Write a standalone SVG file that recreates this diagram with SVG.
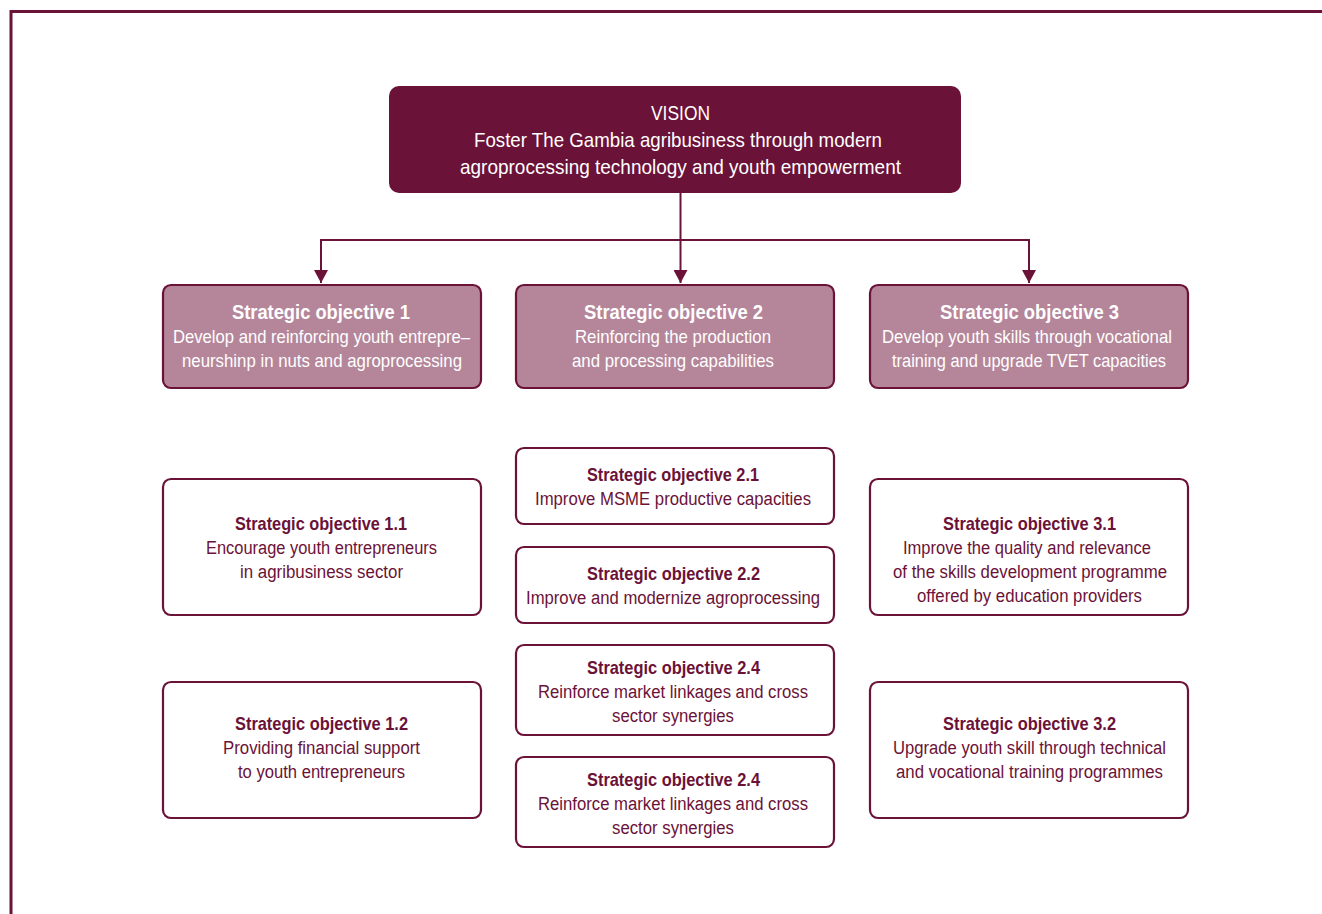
<svg xmlns="http://www.w3.org/2000/svg" width="1322" height="914" viewBox="0 0 1322 914">
<defs>
<marker id="arr" markerWidth="14" markerHeight="14" refX="13" refY="7" orient="auto-start-reverse" markerUnits="userSpaceOnUse" viewBox="0 0 14 14">
<path d="M0,0 L13,7 L0,14 Z" fill="#6b1238"/>
</marker>
<style>
text{font-family:"Liberation Sans",Arial,sans-serif;text-anchor:middle}
.vis{fill:#6b1238}
.vt{fill:#ffffff;font-size:21px}
.so{fill:#b5869a;stroke:#6b1238;stroke-width:2.2}
.sot{fill:#ffffff;font-size:20px;font-weight:bold}
.sob{fill:#ffffff;font-size:18.5px}
.sub{fill:#ffffff;stroke:#6b1238;stroke-width:2.2}
.st{fill:#6b1238;font-size:18.5px;font-weight:bold}
.sb{fill:#6b1238;font-size:18px}
.con{fill:none;stroke:#6b1238;stroke-width:2}
</style>
</defs>
<rect width="1322" height="914" fill="#ffffff"/>
<path d="M1322,11.5 H11 V914" fill="none" stroke="#6b1238" stroke-width="3"/>

<g id="connectors">
<path class="con" d="M680.5,193 V283" marker-end="url(#arr)"/>
<path class="con" d="M321,283 V240 H1029 V283" marker-start="url(#arr)" marker-end="url(#arr)"/>
</g>

<g id="vision">
<rect class="vis" x="389" y="86" width="572" height="107" rx="10"/>
<text class="vt" x="680.5" y="120" textLength="59" lengthAdjust="spacingAndGlyphs">VISION</text>
<text class="vt" x="678" y="147" textLength="408" lengthAdjust="spacingAndGlyphs">Foster The Gambia agribusiness through modern</text>
<text class="vt" x="680.5" y="174" textLength="441" lengthAdjust="spacingAndGlyphs">agroprocessing technology and youth empowerment</text>
</g>

<g id="so1">
<rect class="so" x="163" y="285" width="318" height="103" rx="8"/>
<text class="sot" x="321" y="319" textLength="178" lengthAdjust="spacingAndGlyphs">Strategic objective 1</text>
<text class="sob" x="321.5" y="343" textLength="297" lengthAdjust="spacingAndGlyphs">Develop and reinforcing youth entrepre–</text>
<text class="sob" x="322" y="367" textLength="280" lengthAdjust="spacingAndGlyphs">neurshinp in nuts and agroprocessing</text>
</g>

<g id="so2">
<rect class="so" x="516" y="285" width="318" height="103" rx="8"/>
<text class="sot" x="673.5" y="319" textLength="179" lengthAdjust="spacingAndGlyphs">Strategic objective 2</text>
<text class="sob" x="673" y="343" textLength="196" lengthAdjust="spacingAndGlyphs">Reinforcing the production</text>
<text class="sob" x="673" y="367" textLength="202" lengthAdjust="spacingAndGlyphs">and processing capabilities</text>
</g>

<g id="so3">
<rect class="so" x="870" y="285" width="318" height="103" rx="8"/>
<text class="sot" x="1029.5" y="319" textLength="179" lengthAdjust="spacingAndGlyphs">Strategic objective 3</text>
<text class="sob" x="1027" y="343" textLength="290" lengthAdjust="spacingAndGlyphs">Develop youth skills through vocational</text>
<text class="sob" x="1029" y="367" textLength="274" lengthAdjust="spacingAndGlyphs">training and upgrade TVET capacities</text>
</g>

<g id="so1-1">
<rect class="sub" x="163" y="479" width="318" height="136" rx="8"/>
<text class="st" x="321" y="530" textLength="172" lengthAdjust="spacingAndGlyphs">Strategic objective 1.1</text>
<text class="sb" x="321.5" y="554" textLength="231" lengthAdjust="spacingAndGlyphs">Encourage youth entrepreneurs</text>
<text class="sb" x="321.5" y="578" textLength="163" lengthAdjust="spacingAndGlyphs">in agribusiness sector</text>
</g>

<g id="so1-2">
<rect class="sub" x="163" y="682" width="318" height="136" rx="8"/>
<text class="st" x="321.5" y="730" textLength="173" lengthAdjust="spacingAndGlyphs">Strategic objective 1.2</text>
<text class="sb" x="321.5" y="754" textLength="197" lengthAdjust="spacingAndGlyphs">Providing financial support</text>
<text class="sb" x="321.5" y="778" textLength="167" lengthAdjust="spacingAndGlyphs">to youth entrepreneurs</text>
</g>

<g id="so2-1">
<rect class="sub" x="516" y="448" width="318" height="76" rx="8"/>
<text class="st" x="673" y="481" textLength="172" lengthAdjust="spacingAndGlyphs">Strategic objective 2.1</text>
<text class="sb" x="673" y="505" textLength="276" lengthAdjust="spacingAndGlyphs">Improve MSME productive capacities</text>
</g>

<g id="so2-2">
<rect class="sub" x="516" y="547" width="318" height="76" rx="8"/>
<text class="st" x="673.5" y="580" textLength="173" lengthAdjust="spacingAndGlyphs">Strategic objective 2.2</text>
<text class="sb" x="673" y="604" textLength="294" lengthAdjust="spacingAndGlyphs">Improve and modernize agroprocessing</text>
</g>

<g id="so2-4a">
<rect class="sub" x="516" y="645" width="318" height="90" rx="8"/>
<text class="st" x="673.5" y="674" textLength="173" lengthAdjust="spacingAndGlyphs">Strategic objective 2.4</text>
<text class="sb" x="673" y="698" textLength="270" lengthAdjust="spacingAndGlyphs">Reinforce market linkages and cross</text>
<text class="sb" x="673" y="722" textLength="122" lengthAdjust="spacingAndGlyphs">sector synergies</text>
</g>

<g id="so2-4b">
<rect class="sub" x="516" y="757" width="318" height="90" rx="8"/>
<text class="st" x="673.5" y="786" textLength="173" lengthAdjust="spacingAndGlyphs">Strategic objective 2.4</text>
<text class="sb" x="673" y="810" textLength="270" lengthAdjust="spacingAndGlyphs">Reinforce market linkages and cross</text>
<text class="sb" x="673" y="834" textLength="122" lengthAdjust="spacingAndGlyphs">sector synergies</text>
</g>

<g id="so3-1">
<rect class="sub" x="870" y="479" width="318" height="136" rx="8"/>
<text class="st" x="1029.5" y="530" textLength="173" lengthAdjust="spacingAndGlyphs">Strategic objective 3.1</text>
<text class="sb" x="1027" y="554" textLength="248" lengthAdjust="spacingAndGlyphs">Improve the quality and relevance</text>
<text class="sb" x="1030" y="578" textLength="274" lengthAdjust="spacingAndGlyphs">of the skills development programme</text>
<text class="sb" x="1029.5" y="602" textLength="225" lengthAdjust="spacingAndGlyphs">offered by education providers</text>
</g>

<g id="so3-2">
<rect class="sub" x="870" y="682" width="318" height="136" rx="8"/>
<text class="st" x="1029.5" y="730" textLength="173" lengthAdjust="spacingAndGlyphs">Strategic objective 3.2</text>
<text class="sb" x="1029.5" y="754" textLength="273" lengthAdjust="spacingAndGlyphs">Upgrade youth skill through technical</text>
<text class="sb" x="1029.5" y="778" textLength="267" lengthAdjust="spacingAndGlyphs">and vocational training programmes</text>
</g>
</svg>
